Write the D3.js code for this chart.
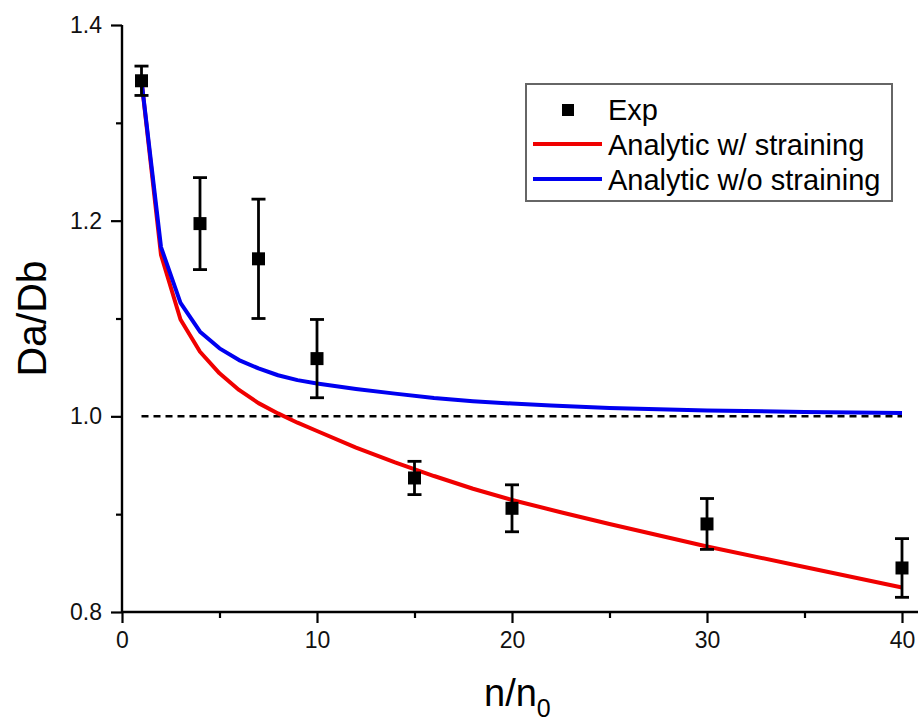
<!DOCTYPE html>
<html>
<head>
<meta charset="utf-8">
<script src="https://cdn.jsdelivr.net/npm/d3@7"></script>
<style>
  body { margin: 0; background: #fff; }
  svg { display: block; font-family: "Liberation Sans", Arial, sans-serif; }
  .tick text { font-size: 23px; fill: #111; }
</style>
</head>
<body>
<div id="chart"></div>
<script>
// experimental points
const expX   = [1, 4, 7, 10, 15, 20, 30, 40];
const expY   = [1.343, 1.197, 1.161, 1.059, 0.937, 0.906, 0.890, 0.845];
const expErr = [0.015, 0.047, 0.061, 0.040, 0.017, 0.024, 0.026, 0.030];

// analytic curves
const strainX = [1, 2, 3, 4, 5, 6, 7, 8, 9, 10, 12, 14, 16, 18, 20, 22.5, 25, 30, 35, 40];
const strainY = [1.343, 1.165, 1.099, 1.066, 1.044, 1.027, 1.0135, 1.003, 0.9935, 0.985,
                 0.968, 0.953, 0.939, 0.926, 0.9145, 0.902, 0.890, 0.867, 0.846, 0.825];
const noStrainX = [1, 2, 3, 4, 5, 6, 7, 8, 9, 10, 12, 14, 16, 18, 20, 22, 25, 30, 35, 40];
const noStrainY = [1.343, 1.173, 1.116, 1.0865, 1.0695, 1.0575, 1.049, 1.042, 1.037, 1.0335,
                   1.028, 1.0232, 1.0187, 1.0155, 1.013, 1.011, 1.0085, 1.006, 1.0045, 1.0035];

const xMajor = [0, 10, 20, 30, 40];
const xMinor = [5, 15, 25, 35];
const yMajor = [0.8, 1.0, 1.2, 1.4];
const yMinor = [0.9, 1.1, 1.3];

const legendItems = ["Exp", "Analytic w/ straining", "Analytic w/o straining"];
const RED = "#f00000", BLUE = "#0000f0";

const W = 918, H = 723;
const svg = d3.select("#chart").append("svg").attr("width", W).attr("height", H);

const x = d3.scaleLinear().domain([0, 40]).range([122, 902]);
const y = d3.scaleLinear().domain([0.8, 1.4]).range([612, 25]);

// AXES
const xAxis = svg.append("g").attr("transform", `translate(0,${y(0.8)})`)
  .call(d3.axisBottom(x).tickValues(xMajor).tickSize(11).tickPadding(9).tickFormat(d3.format("d")));
xAxis.select(".domain").remove();
xAxis.append("g")
  .call(d3.axisBottom(x).tickValues(xMinor).tickSize(6).tickFormat(""))
  .select(".domain").remove();
xAxis.append("line").attr("x1", x(0)).attr("x2", W).attr("stroke", "#000").attr("stroke-width", 2.4);

const yAxis = svg.append("g").attr("transform", `translate(${x(0)},0)`)
  .call(d3.axisLeft(y).tickValues(yMajor).tickSize(11).tickPadding(9).tickFormat(d3.format(".1f")));
yAxis.select(".domain").remove();
yAxis.append("g")
  .call(d3.axisLeft(y).tickValues(yMinor).tickSize(6).tickFormat(""))
  .select(".domain").remove();
yAxis.append("line").attr("y1", y(0.8) + 1).attr("y2", y(1.4)).attr("stroke", "#000").attr("stroke-width", 2.4);

svg.selectAll(".tick line").attr("stroke", "#000").attr("stroke-width", 2.2);

// axis titles
svg.append("text")
  .attr("transform", `translate(46,${(y(0.8) + y(1.4)) / 2}) rotate(-90)`)
  .attr("text-anchor", "middle")
  .attr("font-size", 41)
  .text("Da/Db");

const xt = svg.append("text").attr("x", 484).attr("y", 706).attr("font-size", 38).text("n/n");
xt.append("tspan").attr("font-size", 25).attr("dy", 11).text("0");

// REFERENCE LINE
svg.append("line")
  .attr("x1", x(1)).attr("x2", x(40))
  .attr("y1", y(1)).attr("y2", y(1))
  .attr("stroke", "#000").attr("stroke-width", 2.5).attr("stroke-dasharray", "7,5");

// CURVES
const line = d3.line().x((d) => x(d[0])).y((d) => y(d[1]));
svg.append("path")
  .datum(d3.zip(strainX, strainY))
  .attr("d", line).attr("fill", "none").attr("stroke", RED).attr("stroke-width", 4)
  .attr("stroke-linejoin", "round");
svg.append("path")
  .datum(d3.zip(noStrainX, noStrainY))
  .attr("d", line).attr("fill", "none").attr("stroke", BLUE).attr("stroke-width", 4)
  .attr("stroke-linejoin", "round");

// EXP POINTS
const pts = svg.append("g").selectAll("g").data(d3.zip(expX, expY, expErr)).enter().append("g");
pts.append("line")
  .attr("x1", (d) => x(d[0])).attr("x2", (d) => x(d[0]))
  .attr("y1", (d) => y(d[1] - d[2])).attr("y2", (d) => y(d[1] + d[2]))
  .attr("stroke", "#000").attr("stroke-width", 2.8);
[-1, 1].forEach((s) => {
  pts.append("line")
    .attr("x1", (d) => x(d[0]) - 7).attr("x2", (d) => x(d[0]) + 7)
    .attr("y1", (d) => y(d[1] + s * d[2])).attr("y2", (d) => y(d[1] + s * d[2]))
    .attr("stroke", "#000").attr("stroke-width", 2.8);
});
pts.append("rect")
  .attr("x", (d) => x(d[0]) - 6.5).attr("y", (d) => y(d[1]) - 6.5)
  .attr("width", 13).attr("height", 13).attr("fill", "#000");

// LEGEND
const lg = svg.append("g").attr("transform", "translate(526,84)");
lg.append("rect").attr("width", 366).attr("height", 117)
  .attr("fill", "#fff").attr("stroke", "#666").attr("stroke-width", 2);
lg.append("rect").attr("x", 36).attr("y", 20).attr("width", 12).attr("height", 12).attr("fill", "#000");
lg.append("line").attr("x1", 7).attr("x2", 76).attr("y1", 60).attr("y2", 60)
  .attr("stroke", RED).attr("stroke-width", 4);
lg.append("line").attr("x1", 7).attr("x2", 76).attr("y1", 95).attr("y2", 95)
  .attr("stroke", BLUE).attr("stroke-width", 4);
lg.selectAll("text.lbl").data(legendItems).enter().append("text")
  .attr("class", "lbl")
  .attr("x", 82)
  .attr("y", (d, i) => 36 + i * 35)
  .attr("font-size", 29)
  .text((d) => d);
</script>
</body>
</html>
